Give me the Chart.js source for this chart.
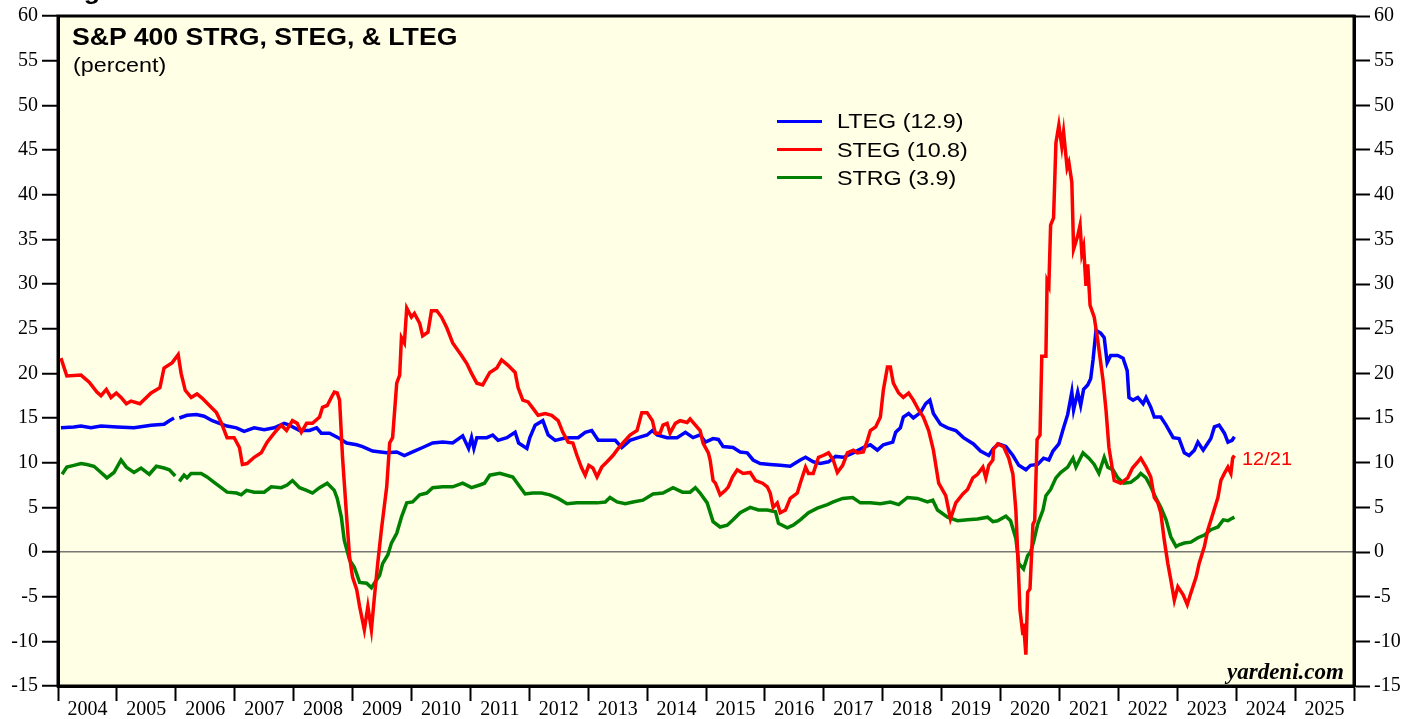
<!DOCTYPE html>
<html>
<head>
<meta charset="utf-8">
<script src="https://cdn.jsdelivr.net/npm/chart.js@4.4.1/dist/chart.umd.min.js"></script>
<style>
body { margin: 0; background: #fff; }
#wrap { position: relative; width: 1419px; height: 719px; overflow: hidden; }
.txt { position: absolute; white-space: nowrap; font-family: 'Liberation Sans', Arial, sans-serif; line-height: 1; transform-origin: 0 0; transform: scaleX(1.11); color: #000; }
.sw { position: absolute; left: 777px; width: 45px; height: 3px; }
</style>
</head>
<body>
<div id="wrap">
<canvas id="chart1"></canvas>
<div class="txt" style="left:60px; top:-21px; font-size:24px; font-weight:bold;">Figure</div>
<div class="txt" style="left:72px; top:25px; font-size:24px; font-weight:bold;">S&amp;P 400 STRG, STEG, &amp; LTEG</div>
<div class="txt" style="left:73px; top:54px; font-size:21px;">(percent)</div>
<div class="sw" style="top:120px; background:#0000ff;"></div>
<div class="sw" style="top:148px; background:#ff0000;"></div>
<div class="sw" style="top:176px; background:#008000;"></div>
<div class="txt" style="left:837px; top:110px; font-size:21px;">LTEG (12.9)</div>
<div class="txt" style="left:837px; top:139px; font-size:21px;">STEG (10.8)</div>
<div class="txt" style="left:837px; top:167px; font-size:21px;">STRG (3.9)</div>
<div class="txt" style="left:1242px; top:450px; font-size:18px; color:#ff0000;">12/21</div>
<div class="txt" style="left:1227px; top:660px; font-size:23px; font-weight:bold; font-style:italic; font-family:'Liberation Serif', serif; transform:none;">yardeni.com</div>
</div>
<script>
const yearTicks = [2004,2005,2006,2007,2008,2009,2010,2011,2012,2013,2014,2015,2016,2017,2018,2019,2020,2021,2022,2023,2024,2025,2026];
const yearLabels = ['2004','2005','2006','2007','2008','2009','2010','2011','2012','2013','2014','2015','2016','2017','2018','2019','2020','2021','2022','2023','2024','2025'];
const yTickVals = [-15,-10,-5,0,5,10,15,20,25,30,35,40,45,50,55,60];

// LTEG (blue), weekly readings thinned out
const ltegT = [2004.05,2004.27,2004.39,2004.56,2004.73,2005.00,2005.29,2005.58,2005.80,2005.89,2005.97,2006.01,2006.06,2006.19,2006.35,2006.48,2006.62,2006.74,2006.87,2007.03,
  2007.16,2007.33,2007.50,2007.67,2007.84,2007.93,2008.10,2008.27,2008.39,2008.47,2008.61,2008.78,2008.90,2009.07,2009.17,2009.34,2009.58,2009.75,2009.88,2010.02,
  2010.19,2010.36,2010.53,2010.70,2010.87,2010.97,2011.02,2011.06,2011.11,2011.28,2011.38,2011.47,2011.62,2011.76,2011.82,2011.96,2012.01,2012.10,2012.23,2012.32,
  2012.44,2012.57,2012.69,2012.83,2012.95,2013.06,2013.17,2013.32,2013.46,2013.57,2013.71,2013.85,2014.00,2014.09,2014.17,2014.34,2014.51,2014.65,2014.78,2014.90,
  2014.99,2015.12,2015.21,2015.29,2015.46,2015.58,2015.70,2015.80,2015.92,2016.09,2016.26,2016.43,2016.60,2016.69,2016.82,2016.94,2017.08,2017.20,2017.33,2017.50,
  2017.67,2017.79,2017.91,2018.01,2018.17,2018.22,2018.30,2018.35,2018.44,2018.52,2018.64,2018.73,2018.80,2018.86,2018.98,2019.10,2019.24,2019.37,2019.54,2019.66,
  2019.80,2019.88,2019.97,2020.09,2020.21,2020.31,2020.43,2020.51,2020.63,2020.73,2020.82,2020.89,2020.99,2021.07,2021.14,2021.21,2021.24,2021.31,2021.36,2021.41,
  2021.48,2021.53,2021.57,2021.62,2021.70,2021.76,2021.81,2021.87,2021.99,2022.08,2022.15,2022.18,2022.25,2022.33,2022.42,2022.47,2022.55,2022.61,2022.72,2022.81,
  2022.93,2023.03,2023.12,2023.20,2023.29,2023.35,2023.44,2023.52,2023.57,2023.63,2023.71,2023.80,2023.86,2023.93,2023.97];
const ltegV = [13.9,14.0,14.1,13.9,14.1,14.0,13.9,14.2,14.3,14.7,15.0,null,15.0,15.3,15.4,15.2,14.7,14.4,14.1,13.9,
  13.5,13.9,13.7,13.9,14.4,14.2,13.6,13.6,13.9,13.3,13.3,12.7,12.2,12.0,11.8,11.3,11.1,11.2,10.8,11.2,
  11.7,12.2,12.3,12.2,13.0,11.6,12.8,11.6,12.8,12.8,13.1,12.5,12.8,13.4,12.2,11.6,12.8,14.2,14.7,13.1,
  12.5,12.7,12.8,12.8,13.4,13.6,12.5,12.5,12.5,11.7,12.5,12.8,13.1,13.6,13.1,12.8,12.8,13.4,12.8,13.1,
  12.3,12.7,12.6,11.8,11.7,11.2,11.1,10.3,9.9,9.8,9.7,9.6,10.3,10.6,10.1,9.9,10.1,10.7,10.6,11.1,
  11.7,12.0,11.4,12.0,12.3,13.4,13.9,15.1,15.5,15.0,15.6,16.6,17.0,15.5,14.3,13.9,13.6,12.8,12.1,11.3,
  10.8,11.6,12.1,11.8,10.8,9.7,9.2,9.7,9.8,10.5,10.3,11.3,12.1,13.9,15.4,17.9,15.9,17.9,16.4,18.2,
  18.7,19.4,21.5,24.8,24.5,24.0,21.2,22.0,22.0,21.7,20.3,17.3,17.0,17.3,16.6,17.3,16.2,15.1,15.1,14.2,
  12.8,12.7,11.1,10.8,11.4,12.3,11.4,12.2,12.7,14.0,14.2,13.3,12.3,12.5,12.9];

// STEG (red)
const stegT = [2004.05,2004.15,2004.39,2004.53,2004.66,2004.73,2004.82,2004.90,2004.99,2005.07,2005.16,2005.24,2005.39,2005.58,2005.73,2005.80,2005.94,2006.04,2006.09,2006.16,
  2006.26,2006.36,2006.45,2006.57,2006.69,2006.77,2006.87,2006.99,2007.08,2007.13,2007.21,2007.33,2007.45,2007.55,2007.67,2007.79,2007.88,2007.98,2008.06,2008.13,
  2008.22,2008.32,2008.44,2008.49,2008.57,2008.64,2008.69,2008.74,2008.78,2008.83,2008.90,2008.95,2009.00,2009.07,2009.12,2009.20,2009.26,2009.32,2009.37,2009.43,
  2009.49,2009.58,2009.63,2009.68,2009.75,2009.80,2009.83,2009.88,2009.92,2010.00,2010.05,2010.14,2010.19,2010.28,2010.34,2010.43,2010.51,2010.60,2010.70,2010.85,
  2010.94,2011.02,2011.11,2011.21,2011.33,2011.45,2011.53,2011.64,2011.76,2011.81,2011.89,2011.98,2012.06,2012.15,2012.27,2012.38,2012.49,2012.57,2012.66,2012.74,
  2012.81,2012.89,2012.95,2013.01,2013.08,2013.15,2013.23,2013.32,2013.42,2013.51,2013.59,2013.71,2013.83,2013.91,2014.00,2014.09,2014.14,2014.22,2014.27,2014.34,
  2014.39,2014.48,2014.56,2014.68,2014.73,2014.82,2014.90,2014.95,2015.04,2015.07,2015.12,2015.16,2015.24,2015.33,2015.38,2015.45,2015.53,2015.63,2015.75,2015.84,
  2015.96,2016.04,2016.09,2016.14,2016.21,2016.26,2016.35,2016.43,2016.55,2016.60,2016.69,2016.74,2016.82,2016.91,2016.99,2017.08,2017.16,2017.23,2017.32,2017.40,
  2017.50,2017.57,2017.67,2017.74,2017.79,2017.88,2017.96,2018.01,2018.08,2018.13,2018.18,2018.27,2018.35,2018.44,2018.52,2018.61,2018.69,2018.78,2018.86,2018.95,
  2019.07,2019.15,2019.24,2019.36,2019.44,2019.53,2019.61,2019.70,2019.75,2019.80,2019.87,2019.88,2019.95,2020.05,2020.14,2020.21,2020.26,2020.29,2020.33,2020.38,
  2020.39,2020.43,2020.46,2020.50,2020.55,2020.58,2020.62,2020.67,2020.70,2020.77,2020.79,2020.82,2020.85,2020.90,2020.94,2020.99,2021.04,2021.07,2021.13,2021.16,
  2021.21,2021.24,2021.31,2021.35,2021.38,2021.41,2021.45,2021.48,2021.52,2021.59,2021.65,2021.74,2021.79,2021.84,2021.93,2022.04,2022.16,2022.24,2022.33,2022.38,
  2022.47,2022.55,2022.61,2022.67,2022.72,2022.78,2022.84,2022.89,2022.95,2023.01,2023.10,2023.17,2023.23,2023.32,2023.37,2023.46,2023.52,2023.61,2023.69,2023.74,
  2023.80,2023.86,2023.91,2023.94,2023.97];
const stegV = [21.7,19.7,19.8,19.0,17.9,17.5,18.2,17.3,17.8,17.3,16.6,16.9,16.6,17.8,18.4,20.6,21.2,22.1,20.0,18.1,
  17.3,17.7,17.2,16.4,15.6,14.5,12.8,12.8,11.7,9.8,9.9,10.6,11.1,12.3,13.3,14.2,13.6,14.7,14.4,13.4,
  14.4,14.4,15.1,16.2,16.4,17.3,17.9,17.8,17.0,10.6,3.9,-0.6,-2.8,-4.2,-6.1,-8.7,-6.1,-8.7,-5.1,-1.1,
  2.5,7.3,12.2,12.8,18.9,19.8,24.0,23.4,27.3,26.3,26.7,25.6,24.2,24.6,27.0,27.0,26.3,25.1,23.4,22.0,
  21.1,20.0,18.9,18.7,20.1,20.6,21.5,20.9,20.1,18.4,17.0,16.8,16.1,15.3,15.5,15.3,14.7,13.4,12.3,12.2,
  10.8,9.4,8.6,9.7,9.4,8.4,9.5,10.1,10.8,11.6,12.2,13.1,13.6,15.6,15.6,14.7,13.3,13.3,14.2,14.4,
  13.3,14.4,14.7,14.5,14.9,14.2,13.6,12.2,11.1,10.3,8.0,7.7,6.4,6.9,7.3,8.4,9.2,8.8,8.9,8.0,
  7.7,7.3,6.6,5.0,5.5,4.4,4.7,6.0,6.6,7.7,9.5,8.8,8.8,10.6,10.8,11.1,10.3,8.9,9.7,11.1,
  11.4,11.1,11.2,12.5,13.6,14.0,15.1,18.1,20.7,20.7,18.9,17.8,17.3,17.8,17.0,15.9,15.1,13.6,11.4,7.7,
  6.3,3.7,5.5,6.5,7.0,8.3,8.7,9.5,8.3,9.7,10.3,11.5,12.1,11.8,10.5,8.7,4.7,0.0,-6.5,-9.3,
  -8.0,-11.5,-4.5,-4.1,3.1,3.5,12.6,13.1,21.9,21.9,30.3,29.8,36.6,37.4,45.8,47.8,45.4,47.0,43.0,43.6,
  41.4,33.9,35.4,36.6,33.4,34.2,29.8,32.2,27.6,26.3,23.7,19.2,15.9,11.7,8.0,7.7,8.3,9.4,10.1,10.5,
  9.5,8.4,6.1,5.5,4.4,1.3,-1.3,-3.1,-5.4,-3.9,-4.8,-5.9,-4.6,-2.8,-1.3,0.6,2.5,4.4,6.1,8.0,
  8.8,9.5,8.8,10.5,10.8];

// STRG (green)
const strgT = [2004.07,2004.15,2004.27,2004.39,2004.49,2004.61,2004.73,2004.83,2004.95,2005.07,2005.16,2005.29,2005.41,2005.55,2005.67,2005.80,2005.89,2005.99,2006.02,2006.06,
  2006.14,2006.19,2006.26,2006.43,2006.53,2006.65,2006.77,2006.87,2007.03,2007.11,2007.20,2007.33,2007.50,2007.62,2007.79,2007.89,2007.98,2008.10,2008.22,2008.32,
  2008.44,2008.57,2008.69,2008.74,2008.81,2008.86,2008.95,2009.03,2009.12,2009.24,2009.32,2009.37,2009.46,2009.51,2009.60,2009.66,2009.75,2009.83,2009.92,2010.02,
  2010.14,2010.26,2010.36,2010.53,2010.70,2010.87,2011.02,2011.16,2011.24,2011.33,2011.50,2011.72,2011.84,2011.93,2012.06,2012.21,2012.35,2012.49,2012.64,2012.81,
  2012.98,2013.15,2013.29,2013.37,2013.49,2013.63,2013.76,2013.93,2014.10,2014.27,2014.44,2014.60,2014.73,2014.82,2014.90,2015.02,2015.12,2015.24,2015.36,2015.46,
  2015.58,2015.75,2015.89,2016.04,2016.18,2016.23,2016.38,2016.48,2016.60,2016.74,2016.89,2017.06,2017.16,2017.32,2017.49,2017.62,2017.79,2017.96,2018.13,2018.27,
  2018.42,2018.59,2018.76,2018.85,2018.93,2019.10,2019.27,2019.44,2019.61,2019.78,2019.87,2019.95,2020.09,2020.17,2020.26,2020.31,2020.39,2020.46,2020.51,2020.56,
  2020.63,2020.72,2020.77,2020.85,2020.94,2021.02,2021.14,2021.23,2021.28,2021.40,2021.50,2021.59,2021.67,2021.76,2021.82,2021.91,2021.99,2022.09,2022.21,2022.33,
  2022.38,2022.47,2022.55,2022.64,2022.72,2022.81,2022.89,2022.98,2023.03,2023.12,2023.23,2023.35,2023.46,2023.57,2023.69,2023.78,2023.86,2023.91,2023.97];
const strgV = [8.7,9.5,9.7,9.9,9.8,9.6,8.9,8.3,8.9,10.3,9.5,8.9,9.4,8.7,9.6,9.4,9.2,8.5,null,7.9,
  8.6,8.3,8.8,8.8,8.4,7.8,7.2,6.7,6.6,6.4,6.9,6.7,6.7,7.3,7.2,7.5,8.0,7.2,6.9,6.6,
  7.2,7.7,6.9,6.0,3.9,1.3,-0.9,-1.7,-3.4,-3.5,-4.0,-3.5,-2.6,-1.3,-0.3,1.0,2.1,3.9,5.5,5.6,
  6.4,6.6,7.2,7.3,7.3,7.7,7.2,7.5,7.7,8.6,8.8,8.4,7.3,6.5,6.6,6.6,6.4,6.0,5.4,5.5,
  5.5,5.5,5.6,6.1,5.6,5.4,5.6,5.8,6.5,6.6,7.2,6.7,6.7,7.2,6.6,5.5,3.4,2.8,3.0,3.6,
  4.4,5.0,4.7,4.7,4.5,3.2,2.7,3.0,3.6,4.4,4.9,5.3,5.6,6.0,6.1,5.5,5.5,5.4,5.6,5.3,
  6.1,6.0,5.6,5.8,4.7,3.9,3.5,3.6,3.7,3.9,3.4,3.5,4.0,3.5,1.5,-1.3,-1.9,-0.4,0.0,1.1,
  3.1,4.7,6.3,7.0,8.3,8.9,9.5,10.5,9.5,11.1,10.5,9.8,8.8,10.6,9.5,9.2,8.3,7.7,7.8,8.4,
  8.8,8.3,7.3,6.0,5.0,3.6,1.7,0.6,0.8,1.0,1.1,1.6,1.9,2.5,2.8,3.6,3.5,3.7,3.9];

const pts = (t, v) => t.map((x, i) => ({ x: x, y: v[i] }));

const serif = { family: "'Liberation Serif', 'Times New Roman', serif", size: 20 };

const plotFrame = {
    id: 'plotFrame',
    beforeDraw(chart) {
        const a = chart.chartArea, ctx = chart.ctx;
        ctx.save();
        ctx.fillStyle = '#FFFFE5';
        ctx.fillRect(a.left, a.top, a.right - a.left, a.bottom - a.top);
        ctx.restore();
    },
    afterDraw(chart) {
        const a = chart.chartArea, ctx = chart.ctx;
        ctx.save();
        ctx.strokeStyle = '#000';
        ctx.lineWidth = 3;
        ctx.strokeRect(a.left, a.top, a.right - a.left, a.bottom - a.top);
        ctx.restore();
    }
};

const ch1 = document.getElementById('chart1');

new Chart(ch1, {
    type: 'line',
    data: {
        datasets: [
        {
            label: 'STEG',
            data: pts(stegT, stegV),
            borderColor: '#ff0000',
            borderWidth: 3.5,
            pointRadius: 0,
            tension: 0,
            order: 1
        },
        {
            label: 'LTEG',
            data: pts(ltegT, ltegV),
            borderColor: '#0000ff',
            borderWidth: 3.5,
            pointRadius: 0,
            tension: 0,
            spanGaps: false,
            order: 2
        },
        {
            label: 'STRG',
            data: pts(strgT, strgV),
            borderColor: '#008000',
            borderWidth: 3.5,
            pointRadius: 0,
            tension: 0,
            spanGaps: false,
            order: 3
        }
        ]
    },
    options: {
        responsive: true,
        maintainAspectRatio: false,
        animation: false,
        events: [],
        layout: { padding: { top: 15 } },
        plugins: {
            legend: { display: false },
            tooltip: { enabled: false }
        },
        scales: {
            x: {
                type: 'linear',
                min: 2004,
                max: 2026,
                afterBuildTicks: s => { s.ticks = yearTicks.map(v => ({ value: v })); },
                ticks: {
                    autoSkip: false,
                    maxRotation: 0,
                    labelOffset: 29.45,
                    padding: -3,
                    color: '#000',
                    font: serif,
                    callback: (v, i) => yearLabels[i] || ''
                },
                grid: { drawOnChartArea: false, tickLength: 15, tickColor: '#000', tickWidth: 2 },
                border: { color: '#000', width: 3 },
                afterFit: s => { s.height = 33; }
            },
            y: {
                position: 'left',
                min: -15,
                max: 60,
                afterBuildTicks: s => { s.ticks = yTickVals.map(v => ({ value: v })); },
                ticks: { autoSkip: false, padding: 4, color: '#000', font: serif },
                grid: {
                    color: c => (c.tick && c.tick.value === 0) ? '#777777' : 'rgba(0,0,0,0)',
                    lineWidth: 1.5,
                    tickLength: 16,
                    tickColor: '#000',
                    tickWidth: 2
                },
                border: { color: '#000', width: 3 },
                afterFit: s => { s.width = 58; }
            },
            y2: {
                position: 'right',
                min: -15,
                max: 60,
                afterBuildTicks: s => { s.ticks = yTickVals.map(v => ({ value: v })); },
                ticks: { autoSkip: false, padding: 4, color: '#000', font: serif },
                grid: { drawOnChartArea: false, tickLength: 16, tickColor: '#000', tickWidth: 2 },
                border: { color: '#000', width: 3 },
                afterFit: s => { s.width = 65; }
            }
        }
    },
    plugins: [plotFrame]
});
</script>
</body>
</html>
